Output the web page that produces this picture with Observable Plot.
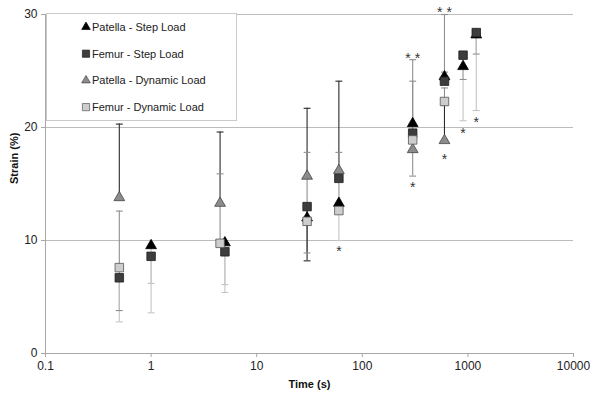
<!DOCTYPE html>
<html><head><meta charset="utf-8">
<script src="https://cdn.jsdelivr.net/npm/d3@7"></script>
<script src="https://cdn.jsdelivr.net/npm/@observablehq/plot@0.6"></script>
<style>body{margin:0;background:#fff}</style>
</head><body><div id="chart"></div><script>
// ---- data ----
const seriesNames = ["Patella - Step Load","Femur - Step Load","Patella - Dynamic Load","Femur - Dynamic Load"];
const psTime = [1,5,30,60,300,600,900,1200];
const psStrain = [9.55,9.8,12.0,13.3,20.35,24.5,25.4,28.2];
const fsTime = [0.5,1,5,30,60,300,600,900,1200];
const fsStrain = [6.7,8.6,9.0,13.0,15.5,19.5,24.1,26.4,28.4];
const pdTime = [0.5,4.5,30,60,300,600];
const pdStrain = [13.8,13.3,15.7,16.2,18.05,18.85];
const fdTime = [0.5,4.5,30,60,300,600];
const fdStrain = [7.6,9.75,11.7,12.65,18.9,22.3];

// error bars: series index, time, cap value, tone
const errSeries = [2,3,3,1, 0,1, 2,3, 0,1, 2,3,0,1, 2,3,1, 1,0,2, 1,0,3,2, 0,1, 0,1];
const errTime   = [0.5,0.5,0.5,0.5, 1,1, 4.5,4.5, 5,5, 30,30,30,30, 60,60,60, 300,300,300, 600,600,600,600, 900,900, 1200,1200];
const errCap    = [20.3,12.6,3.8,2.8, 6.2,3.6, 19.6,15.9, 6.1,5.4, 21.7,17.8,8.9,8.2, 24.1,17.8,10.0, 26.0,24.1,15.7, 30.0,24.9,23.5,22.0, 24.25,20.6, 26.5,21.5];
const errTone   = ["dark","grey","grey","light", "light","light", "dark","grey", "light","light", "dark","grey","grey","dark", "dark","grey","light", "grey","grey","grey", "grey","grey","grey","dark", "grey","light", "grey","light"];

// significance marks
const starTime  = [60,300,300,600,600,900,1200];
const starValue = [9.4,26.5,15.0,30.5,17.5,19.8,20.8];
const starLabel = ["*","* *","*","* *","*","*","*"];

const xTicks = [0.1,1,10,100,1000,10000];
const yTicks = [0,10,20,30];

// ---- build tables ----
const times = [psTime, fsTime, pdTime, fdTime];
const strains = [psStrain, fsStrain, pdStrain, fdStrain];
const points = [];
times.forEach((ts, s) => ts.forEach((t, i) => points.push({s, t, v: strains[s][i]})));
const valueAt = (s, t) => strains[s][times[s].indexOf(t)];
const errors = errSeries.map((s, i) => ({s, t: errTime[i], v: valueAt(s, errTime[i]), cap: errCap[i], tone: errTone[i]}));
const stars = starTime.map((t, i) => ({t, v: starValue[i], label: starLabel[i]}));

const toneColor = {dark: "#2a2a2a", grey: "#8f8f8f", light: "#c4c4c4"};
const fills = ["#000000", "#3d3d3d", "#8c8c8c", "#cdcdcd"];
const strokes = ["#000000", "#1e1e1e", "#444444", "#555555"];
const symbols = ["triangle", "square", "triangle", "square"];
const radii = [4, 4.8, 4, 4.8];

const capSymbol = {draw(ctx, size) { const w = Math.sqrt(size) / 2; ctx.moveTo(-w, 0); ctx.lineTo(w, 0); }};

const marks = [
  Plot.ruleY([10, 20, 30], {stroke: "#bcbcbc"}),
  Plot.ruleY([0], {stroke: "#a8a8a8"}),
  Plot.ruleX([0.1], {y1: 0, y2: 30, stroke: "#a8a8a8"}),
  Plot.axisY({ticks: yTicks, tickSize: 4, tickPadding: 4, stroke: "#a8a8a8", fill: "#222", label: null, fontSize: 12}),
  Plot.axisX({ticks: xTicks, tickFormat: d => String(d), tickSize: 4, tickPadding: 4, stroke: "#a8a8a8", fill: "#222", label: null, fontSize: 12}),
  Plot.ruleX(errors, {x: "t", y1: "v", y2: "cap", stroke: d => toneColor[d.tone], strokeWidth: 1.1}),
  Plot.dot(errors, {x: "t", y: "cap", symbol: capSymbol, r: 3.9, stroke: d => toneColor[d.tone], strokeWidth: 1.1, fill: "none"})
];
[0, 1, 2, 3].forEach(s => {
  marks.push(Plot.dot(points.filter(d => d.s === s), {
    x: "t", y: "v", symbol: symbols[s], r: radii[s],
    fill: fills[s], stroke: strokes[s], strokeWidth: 0.8
  }));
});
marks.push(
  Plot.text(stars, {x: "t", y: "v", text: "label", fontSize: 14, fill: "#333", dy: 4}),
  Plot.text(["Time (s)"], {frameAnchor: "bottom", dy: 34, fontWeight: "bold", fontSize: 11, fill: "#111"}),
  Plot.text(["Strain (%)"], {frameAnchor: "left", dx: -31, rotate: -90, fontWeight: "bold", fontSize: 11, fill: "#111"})
);

const chart = Plot.plot({
  width: 600, height: 403,
  marginLeft: 45, marginRight: 27, marginTop: 14, marginBottom: 50,
  x: {type: "log", domain: [0.1, 10000]},
  y: {domain: [0, 30]},
  style: {fontFamily: "'Liberation Sans', Arial, sans-serif", fontSize: "12px", color: "#222", background: "#fff", overflow: "visible"},
  marks
});
document.getElementById("chart").appendChild(chart);

// ---- legend inside the plot area ----
const svg = d3.select(chart);
const lg = svg.append("g").attr("font-family", "'Liberation Sans', Arial, sans-serif")
  .attr("font-size", 11).attr("text-anchor", "start");
lg.append("rect").attr("x", 46.5).attr("y", 13.5).attr("width", 190).attr("height", 107)
  .attr("fill", "#fff").attr("stroke", "#cacaca");
const legendSym = [d3.symbolTriangle, d3.symbolSquare, d3.symbolTriangle, d3.symbolSquare];
seriesNames.forEach((name, i) => {
  const cy = 27 + i * 26.7;
  const sz = legendSym[i] === d3.symbolTriangle ? 32 : 52;
  lg.append("path").attr("d", d3.symbol(legendSym[i], sz)())
    .attr("transform", `translate(86,${cy})`)
    .attr("fill", fills[i]).attr("stroke", strokes[i]).attr("stroke-width", 0.7);
  lg.append("text").attr("x", 92).attr("y", cy).attr("dy", "0.35em")
    .attr("text-anchor", "start").attr("fill", "#222").text(name);
});
</script></body></html>
